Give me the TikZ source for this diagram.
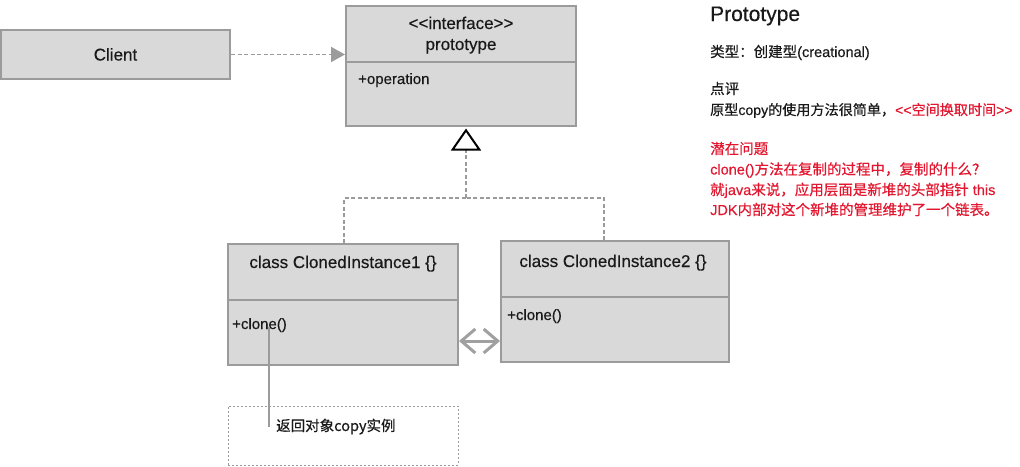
\documentclass[tikz,border=0pt]{standalone}
\usepackage{fontspec}
\setmainfont{Liberation Sans}[Ligatures=NoCommon, FakeBold=0.4]
\newfontfamily\cjk{Noto Sans CJK SC}[FakeBold=0.5]
\usetikzlibrary{arrows.meta}
\definecolor{boxfill}{RGB}{217,217,217}
\definecolor{boxline}{RGB}{155,155,155}
\definecolor{linkgray}{RGB}{160,160,160}
\definecolor{txt}{RGB}{25,25,25}
\definecolor{notered}{RGB}{226,22,46}

\begin{document}
\begin{tikzpicture}[x=1pt,y=-1pt,
  umlbox/.style={draw=boxline, fill=boxfill, line width=2pt, inner sep=0pt},
  divider/.style={draw=boxline, line width=2pt},
  title/.style={font=\fontsize{17}{20}\selectfont, text=txt, anchor=base, inner sep=0pt},
  member/.style={font=\fontsize{15}{18}\selectfont, text=txt, anchor=base west, inner sep=0pt},
  depend/.style={draw=boxline, line width=1.8pt, dash pattern=on 4pt off 2.5pt},
  realize/.style={draw=boxline, line width=1.6pt, dash pattern=on 4pt off 2.5pt},
  swaplink/.style={draw=linkgray, line width=3pt},
  leader/.style={draw=boxline, line width=1.2pt},
  notebox/.style={draw=boxline, line width=0.9pt, dash pattern=on 2pt off 2pt, inner sep=0pt},
  rtext/.style={font=\fontsize{14.5}{17}\selectfont, text=txt, anchor=base west, inner sep=0pt},
  rred/.style={rtext, text=notered}]

\useasboundingbox (0,0) rectangle (1020,466);

% class boxes
\node[umlbox, minimum width=229pt, minimum height=49pt] (client) at (115.5,54.5) {};
\node[umlbox, minimum width=230pt, minimum height=120pt] (proto) at (461,66) {};
\node[umlbox, minimum width=230pt, minimum height=121pt] (c1) at (343,304.5) {};
\node[umlbox, minimum width=228pt, minimum height=121pt] (c2) at (615,301.5) {};
\node[notebox, minimum width=230pt, minimum height=59pt] (note) at (343,435.5) {};

% compartment dividers
\draw[divider] (proto.north west) ++(0,57) -- ++(230,0);
\draw[divider] (c1.north west) ++(0,57) -- ++(230,0);
\draw[divider] (c2.north west) ++(0,57) -- ++(228,0);

% box texts
\node[title] (clientname) at (115.5,60.5) {Client};
\node[title] (stereo) at (461,29) {<{}<interface>{}>};
\node[title] (protoname) at (461,50) {prototype};
\node[member] (op) at (358,84) {+operation};
\node[title] (c1name) at (343,268) {class ClonedInstance1 \{\}};
\node[title] (c2name) at (613,267) {class ClonedInstance2 \{\}};
\node[member] (clone1) at (232,329) {+clone()};
\node[member] (clone2) at (507,320) {+clone()};
\node[rtext] (notetext) at (276,431) {\cjk 返回对象copy实例};

% client depends on the prototype interface
\draw[depend, -{Triangle[length=14pt, width=15pt, fill=boxline]}] (client.east) -- (proto.west |- client.east);

% realization of the interface by both clones
\coordinate (join) at (466,198);
\draw[realize] ([xshift=1pt]c1.north) |- (join);
\draw[realize] ([xshift=-11pt]c2.north) |- (join);
\draw[realize, -{Triangle[open, length=22pt, width=30pt, line width=2pt, black]}] (join) -- ([yshift=-1.5pt]proto.south -| join);

% clones copy each other
\coordinate (mid) at (480,341);
\draw[swaplink, {Straight Barb[length=14pt, width=24pt]}-{Straight Barb[length=14pt, width=24pt]}] (c1.east |- mid) -- (c2.west |- mid);

% note on clone()
\coordinate (tap) at (269,327);
\draw[leader] (tap) -- (tap |- notetext.west);

% commentary
\node[rtext, font=\fontsize{21}{24}\selectfont] (head) at (710,21) {Prototype};
\node[rtext] (kind) at (710,57) {{\cjk 类型：创建型}(creational)};
\node[rtext] (rev) at (710,94) {\cjk 点评};
\node[rtext, font=\fontsize{14.1}{17}\selectfont] (revtxt) at (710,115) {{\cjk 原型}copy{\cjk 的使用方法很简单，}\textcolor{notered}{<{}<{\cjk 空间换取时间}>{}>}};
\node[rred] (issue) at (710,154) {\cjk 潜在问题};
\node[rred] (l1) at (710,174.5) {clone(){\cjk 方法在复制的过程中，复制的什么？}};
\node[rred] (l2) at (710,195) {{\cjk 就}java{\cjk 来说，应用层面是新堆的头部指针} this};
\node[rred] (l3) at (710,215) {JDK{\cjk 内部对这个新堆的管理维护了一个链表。}};

\end{tikzpicture}
\end{document}
